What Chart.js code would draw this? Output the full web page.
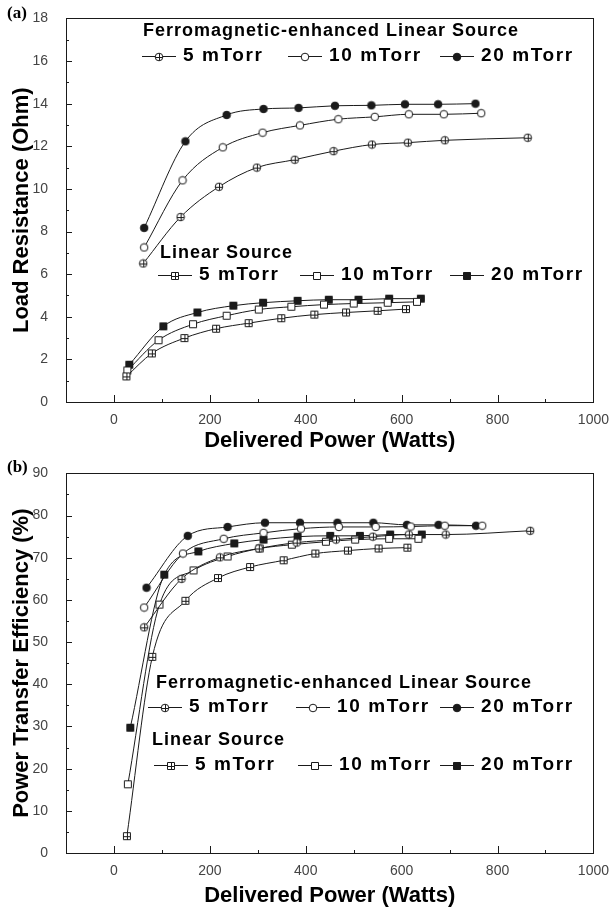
<!DOCTYPE html>
<html>
<head>
<meta charset="utf-8">
<script src="https://cdn.jsdelivr.net/npm/chart.js@4"></script>
<style>
body { margin: 0; background: #fff; }
#wrapA { position: absolute; left: 0; top: 0; width: 611px; height: 455px; }
#wrapB { position: absolute; left: 0; top: 455px; width: 611px; height: 456px; }
</style>
</head>
<body>
<div id="wrapA"><canvas id="chartA" width="611" height="455"></canvas></div>
<div id="wrapB"><canvas id="chartB" width="611" height="456"></canvas></div>
<script>
// (a) load resistance vs delivered power
var resFerro5W  = [61, 139, 219, 298, 377, 458, 538, 613, 690, 863];
var resFerro5   = [6.5, 8.68, 10.1, 11.0, 11.37, 11.77, 12.08, 12.17, 12.28, 12.4];
var resFerro10W = [63, 143, 227, 310, 388, 468, 544, 615, 688, 766];
var resFerro10  = [7.25, 10.4, 11.95, 12.64, 12.98, 13.27, 13.38, 13.5, 13.5, 13.55];
var resFerro20W = [63, 149, 235, 312, 385, 461, 537, 607, 676, 754];
var resFerro20  = [8.17, 12.23, 13.47, 13.75, 13.8, 13.9, 13.92, 13.97, 13.97, 14.0];
var resLin5W    = [26, 79, 147, 213, 281, 349, 418, 484, 550, 609];
var resLin5     = [1.2, 2.28, 3.0, 3.44, 3.7, 3.93, 4.1, 4.2, 4.28, 4.36];
var resLin10W   = [28, 93, 165, 235, 302, 370, 438, 500, 571, 632];
var resLin10    = [1.48, 2.9, 3.65, 4.05, 4.34, 4.47, 4.57, 4.62, 4.66, 4.7];
var resLin20W   = [32, 103, 174, 249, 311, 383, 448, 510, 574, 640];
var resLin20    = [1.75, 3.55, 4.2, 4.52, 4.66, 4.75, 4.8, 4.8, 4.85, 4.85];

// (b) power transfer efficiency vs delivered power
var effFerro5W  = [63, 141, 221, 302, 381, 463, 540, 615, 692, 868];
var effFerro5   = [53.5, 65.0, 70.1, 72.2, 73.6, 74.3, 75.0, 75.5, 75.5, 76.4];
var effFerro10W = [63, 144, 229, 312, 390, 469, 546, 619, 690, 768];
var effFerro10  = [58.2, 71.0, 74.5, 75.9, 76.9, 77.3, 77.3, 77.4, 77.6, 77.6];
var effFerro20W = [68, 154, 237, 315, 388, 466, 541, 611, 677, 755];
var effFerro20  = [62.9, 75.2, 77.3, 78.3, 78.3, 78.3, 78.3, 77.8, 77.8, 77.6];
var effLin5W    = [27, 80, 149, 217, 284, 354, 420, 488, 552, 612];
var effLin5     = [4.0, 46.5, 59.8, 65.2, 67.8, 69.4, 71.0, 71.7, 72.2, 72.4];
var effLin10W   = [29, 95, 166, 237, 304, 371, 442, 503, 574, 635];
var effLin10    = [16.3, 58.9, 67.0, 70.3, 72.2, 73.1, 73.8, 74.3, 74.5, 74.5];
var effLin20W   = [34, 105, 176, 251, 312, 383, 451, 513, 576, 642];
var effLin20    = [29.7, 66.0, 71.5, 73.4, 74.3, 75.0, 75.2, 75.2, 75.5, 75.5];

var pressureLabels = ['5 mTorr', '10 mTorr', '20 mTorr'];
var ferroTitle = 'Ferromagnetic-enhanced Linear Source';
var linearTitle = 'Linear Source';

var INK = '#1a1a1a';

// little marker images used both as pointStyle and in the legends
function marker(shape, filled, cross) {
  var c = document.createElement('canvas');
  c.width = 10; c.height = 10;
  var g = c.getContext('2d');
  g.lineWidth = 1;
  g.strokeStyle = INK;
  g.fillStyle = filled ? INK : '#fff';
  g.beginPath();
  if (shape === 'circle') g.arc(5, 5, 3.8, 0, Math.PI * 2);
  else g.rect(1.5, 1.5, 7, 7);
  g.fill();
  g.stroke();
  if (cross) {
    g.beginPath();
    g.moveTo(1.5, 5.5); g.lineTo(8.5, 5.5);
    g.moveTo(5.5, 1.5); g.lineTo(5.5, 8.5);
    g.stroke();
  }
  return c;
}
var mkFerro = [marker('circle', false, true), marker('circle', false, false), marker('circle', true, false)];
var mkLin = [marker('square', false, true), marker('square', false, false), marker('square', true, false)];

function series(xs, ys, mk) {
  return {
    data: xs.map(function (x, i) { return { x: x, y: ys[i] }; }),
    borderColor: INK,
    borderWidth: 1,
    cubicInterpolationMode: 'monotone',
    pointStyle: mk,
    pointRadius: 4,
    fill: false
  };
}

// frame, inward ticks, panel letter and the in-plot legends
var decor = {
  id: 'decor',
  afterDraw: function (chart, args, o) {
    var ctx = chart.ctx, a = chart.chartArea;
    var xs = chart.scales.x, ys = chart.scales.y;
    ctx.save();
    ctx.strokeStyle = INK;
    ctx.lineWidth = 1;
    ctx.strokeRect(Math.round(a.left) + 0.5, Math.round(a.top) + 0.5,
      Math.round(a.right - a.left), Math.round(a.bottom - a.top));
    ctx.beginPath();
    xs.ticks.forEach(function (t) {
      var px = Math.round(xs.getPixelForValue(t.value)) + 0.5;
      var len = (t.value >= 0 && t.value % 200 === 0) ? 7 : 3;
      ctx.moveTo(px, a.bottom); ctx.lineTo(px, a.bottom - len);
    });
    ys.ticks.forEach(function (t) {
      var py = Math.round(ys.getPixelForValue(t.value)) + 0.5;
      var len = (t.value % o.yMajor === 0) ? 6 : 3;
      ctx.moveTo(a.left, py); ctx.lineTo(a.left + len, py);
    });
    ctx.stroke();

    ctx.fillStyle = '#000';
    ctx.textBaseline = 'middle';
    ctx.font = 'bold 17px "Liberation Serif", serif';
    ctx.fillText(o.panel, 7, o.panelY);

    o.groups.forEach(function (gp) {
      ctx.font = 'bold 18px "Liberation Sans", Arial, sans-serif';
      ctx.letterSpacing = '1px';
      ctx.fillText(gp.title, gp.tx, gp.ty);
      gp.xs.forEach(function (x0, i) {
        ctx.beginPath();
        ctx.moveTo(x0, Math.round(gp.rowY) + 0.5);
        ctx.lineTo(x0 + 34, Math.round(gp.rowY) + 0.5);
        ctx.stroke();
        ctx.drawImage(gp.marks[i], Math.round(x0 + 17 - 5), Math.round(gp.rowY - 4.5));
        ctx.font = 'bold 19px "Liberation Sans", Arial, sans-serif';
        ctx.letterSpacing = '1.6px';
        ctx.fillText(pressureLabels[i], x0 + 41, gp.rowY);
      });
    });
    ctx.restore();
  }
};

function buildChart(id, datasets, yMax, yStep, yMajor, yTitle, xH, topPad, xTitlePad, decorOpts) {
  return new Chart(document.getElementById(id), {
    type: 'scatter',
    data: { datasets: datasets },
    options: {
      responsive: false,
      animation: false,
      showLine: true,
      layout: { padding: { left: 0, right: 17, top: topPad, bottom: 0 } },
      plugins: { legend: { display: false }, tooltip: { enabled: false }, decor: decorOpts },
      scales: {
        x: {
          type: 'linear', min: -100, max: 1000,
          grid: { display: false }, border: { display: false },
          ticks: {
            stepSize: 100, autoSkip: false, maxRotation: 0, padding: 2,
            color: '#444', font: { family: '"Liberation Sans", Arial, sans-serif', size: 14 },
            callback: function (v) { return (v >= 0 && v % 200 === 0) ? v : ''; }
          },
          title: {
            display: true, text: 'Delivered Power (Watts)', color: '#000',
            font: { family: '"Liberation Sans", Arial, sans-serif', size: 22, weight: 'bold' },
            padding: { top: 0, bottom: xTitlePad }
          },
          afterFit: function (s) { s.height = xH; }
        },
        y: {
          type: 'linear', min: 0, max: yMax,
          grid: { display: false }, border: { display: false },
          ticks: {
            stepSize: yStep, autoSkip: false, padding: 10,
            color: '#444', font: { family: '"Liberation Sans", Arial, sans-serif', size: 14 },
            callback: function (v) { return v % yMajor === 0 ? v : ''; }
          },
          title: {
            display: true, text: yTitle, color: '#000',
            font: { family: '"Liberation Sans", Arial, sans-serif', size: 22, weight: 'bold' },
            padding: { top: 9, bottom: 0 }
          },
          afterFit: function (s) { s.width = 66; }
        }
      }
    },
    plugins: [decor]
  });
}

buildChart('chartA', [
  series(resFerro5W, resFerro5, mkFerro[0]),
  series(resFerro10W, resFerro10, mkFerro[1]),
  series(resFerro20W, resFerro20, mkFerro[2]),
  series(resLin5W, resLin5, mkLin[0]),
  series(resLin10W, resLin10, mkLin[1]),
  series(resLin20W, resLin20, mkLin[2])
], 18, 1, 2, 'Load Resistance (Ohm)', 53, 12, 1, {
  panel: '(a)', panelY: 14, yMajor: 2,
  groups: [
    { title: ferroTitle, tx: 143, ty: 31, rowY: 56, xs: [142, 288, 440], marks: mkFerro },
    { title: linearTitle, tx: 160, ty: 253, rowY: 275, xs: [158, 300, 450], marks: mkLin }
  ]
});

buildChart('chartB', [
  series(effFerro5W, effFerro5, mkFerro[0]),
  series(effFerro10W, effFerro10, mkFerro[1]),
  series(effFerro20W, effFerro20, mkFerro[2]),
  series(effLin5W, effLin5, mkLin[0]),
  series(effLin10W, effLin10, mkLin[1]),
  series(effLin20W, effLin20, mkLin[2])
], 90, 5, 10, 'Power Transfer Efficiency (%)', 58, 13, 2, {
  panel: '(b)', panelY: 13, yMajor: 10,
  groups: [
    { title: ferroTitle, tx: 156, ty: 228, rowY: 252, xs: [148, 296, 440], marks: mkFerro },
    { title: linearTitle, tx: 152, ty: 285, rowY: 310, xs: [154, 298, 440], marks: mkLin }
  ]
});
</script>
</body>
</html>
